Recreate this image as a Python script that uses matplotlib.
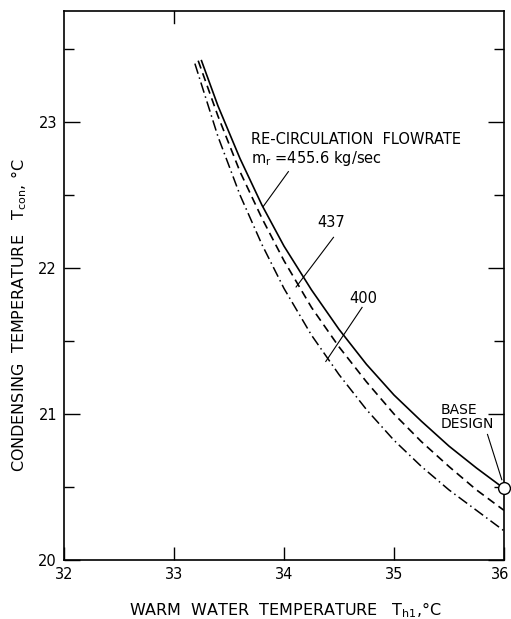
import matplotlib
matplotlib.use("Agg")
import matplotlib.pyplot as plt
import matplotlib.transforms as mtransforms

# warm water temperature (deg C) and condensing temperature (deg C)
x_4556 = [33.25, 33.4, 33.6, 33.8, 34.0, 34.25, 34.5, 34.75, 35.0, 35.25, 35.5, 35.75, 36.0]
t_4556 = [23.42, 23.11, 22.75, 22.43, 22.15, 21.85, 21.58, 21.34, 21.13, 20.95, 20.78, 20.63, 20.49]

x_437 = [33.22, 33.4, 33.6, 33.8, 34.0, 34.25, 34.5, 34.75, 35.0, 35.25, 35.5, 35.75, 36.0]
t_437 = [23.42, 23.04, 22.66, 22.34, 22.05, 21.73, 21.46, 21.22, 21.00, 20.81, 20.64, 20.48, 20.34]

x_400 = [33.19, 33.4, 33.6, 33.8, 34.0, 34.25, 34.5, 34.75, 35.0, 35.25, 35.5, 35.75, 36.0]
t_400 = [23.40, 22.90, 22.50, 22.16, 21.86, 21.54, 21.27, 21.03, 20.82, 20.64, 20.48, 20.34, 20.20]

base_x = [36.0]
base_t = [20.49]

x_ticks = [32, 33, 34, 35, 36]
y_ticks = [20, 21, 22, 23]

fig = plt.figure(figsize=(5.11, 6.19), dpi=100)
ax = fig.add_axes([0.1252, 0.0953, 0.8611, 0.8869])

ax.plot(x_4556, t_4556, color="black", lw=1.2)
ax.plot(x_437, t_437, color="black", lw=1.2, dashes=(5, 3))
ax.plot(x_400, t_400, color="black", lw=1.1, dashes=(7, 2.5, 1, 2.5))
ax.plot(base_x, base_t, "o", ms=8.5, mfc="white", mec="black", mew=1.0,
        clip_on=False, zorder=5)

ax.set_xlim(32, 36)
ax.set_ylim(20, 23.76)
ax.set_xticks(x_ticks)
ax.set_yticks(y_ticks)
ax.set_yticks([20.5, 21.5, 22.5, 23.5], minor=True)
ax.set_xticklabels([str(v) for v in x_ticks], fontsize=10.5)
ax.set_yticklabels([str(v) for v in y_ticks], fontsize=10.5)
ax.tick_params(axis="y", which="major", direction="in", length=11.5, width=1.0,
               left=True, right=True, pad=5)
ax.tick_params(axis="y", which="minor", direction="in", length=7, width=1.0,
               left=True, right=True)
ax.tick_params(axis="x", which="major", direction="in", length=9.5, width=1.0,
               pad=5)
for s in ax.spines.values():
    s.set_linewidth(1.2)

# nudge the last x label so it stays inside the figure
last = ax.get_xticklabels()[-1]
last.set_transform(last.get_transform() +
                   mtransforms.ScaledTranslation(-4 / 100, 0, fig.dpi_scale_trans))

# top-edge tick at 33
ax.plot([33, 33], [23.76, 23.76 - 0.085], color="black", lw=1.0, clip_on=False)

ax.set_xlabel(r"WARM  WATER  TEMPERATURE   T$_{\rm h1}$,°C", fontsize=11.5)
ax.xaxis.set_label_coords(0.503, -0.073)
ax.set_ylabel(r"CONDENSING  TEMPERATURE   T$_{\rm con}$, °C", fontsize=11.5)
ax.yaxis.set_label_coords(-0.08, 0.445)

ax.text(33.70, 22.88, "RE-CIRCULATION  FLOWRATE", fontsize=10.5, ha="left", va="center")
ax.text(33.70, 22.75, r"m$_{\rm r}$ =455.6 kg/sec", fontsize=10.5, ha="left", va="center")
ax.plot([33.81, 34.04], [22.42, 22.66], color="black", lw=0.8)

ax.text(34.43, 22.31, "437", fontsize=10.5, ha="center", va="center")
ax.plot([34.45, 34.11], [22.21, 21.87], color="black", lw=0.8)

ax.text(34.72, 21.79, "400", fontsize=10.5, ha="center", va="center")
ax.plot([34.71, 34.38], [21.73, 21.36], color="black", lw=0.8)

ax.text(35.42, 20.98, "BASE\nDESIGN", fontsize=10, ha="left", va="center",
        linespacing=1.0)
ax.plot([35.85, 35.98], [20.86, 20.55], color="black", lw=0.8)

fig.savefig("out.png", dpi=100)
